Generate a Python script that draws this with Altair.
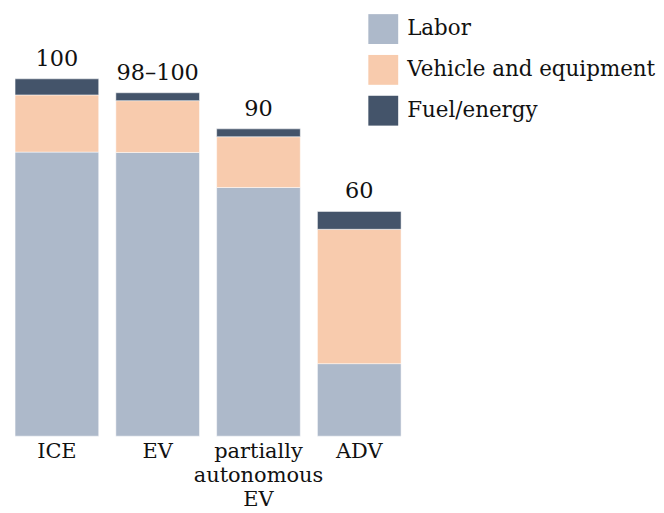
import altair as alt
import pandas as pd

categories = ["ICE", "EV", "partially autonomous EV", "ADV"]
labor = [79.5, 79.4, 69.6, 20.3]
vehicle = [16.0, 14.5, 14.2, 37.6]
fuel = [4.5, 2.2, 2.2, 5.0]
top_labels = ["100", "98–100", "90", "60"]
series = ["Labor", "Vehicle and equipment", "Fuel/energy"]
colors = ["#ADB9CA", "#F8CBAD", "#44546A"]

rows = []
for i, c in enumerate(categories):
    for j, (s, v) in enumerate(zip(series, [labor[i], vehicle[i], fuel[i]])):
        rows.append({"cat": c, "series": s, "value": v, "ord": j})
df = pd.DataFrame(rows)
tot = pd.DataFrame({"cat": categories,
                    "total": [a + b + c for a, b, c in zip(labor, vehicle, fuel)],
                    "label": top_labels})

FONT = "DejaVu Serif"
xenc = alt.X("cat:N", sort=categories,
             scale=alt.Scale(paddingInner=0.17, paddingOuter=0.07),
             axis=alt.Axis(title=None, labelAngle=0, domain=False, ticks=False,
                           labelFont=FONT, labelFontSize=21, labelColor="#111",
                           labelPadding=4, labelLineHeight=24.5, labelLimit=300,
                           labelExpr="split(datum.label, ' ')"))
yscale = alt.Scale(domain=[0, 119.5], nice=False)

bars = alt.Chart(df).mark_bar(stroke="white", strokeWidth=0.5).encode(
    x=xenc,
    y=alt.Y("value:Q", stack="zero", scale=yscale, axis=None),
    color=alt.Color("series:N", sort=series,
                    scale=alt.Scale(domain=series, range=colors),
                    legend=alt.Legend(title=None, orient="none", legendX=362, legendY=5,
                                      symbolType="square", symbolSize=900,
                                      symbolStrokeWidth=0, labelFont=FONT,
                                      labelFontSize=21.5, labelColor="#111",
                                      labelLimit=400,
                                      rowPadding=11, labelOffset=9)),
    order=alt.Order("ord:Q"),
)

text = alt.Chart(tot).mark_text(font=FONT, fontSize=22.5, baseline="bottom", dy=-8,
                                color="#111").encode(
    x=alt.X("cat:N", sort=categories),
    y=alt.Y("total:Q", scale=yscale),
    text="label:N",
)

chart = alt.layer(bars, text).properties(
    width=402, height=429, padding=0
).configure_view(stroke=None)

chart.save("out.html", embed_options={"renderer": "svg", "actions": False})
